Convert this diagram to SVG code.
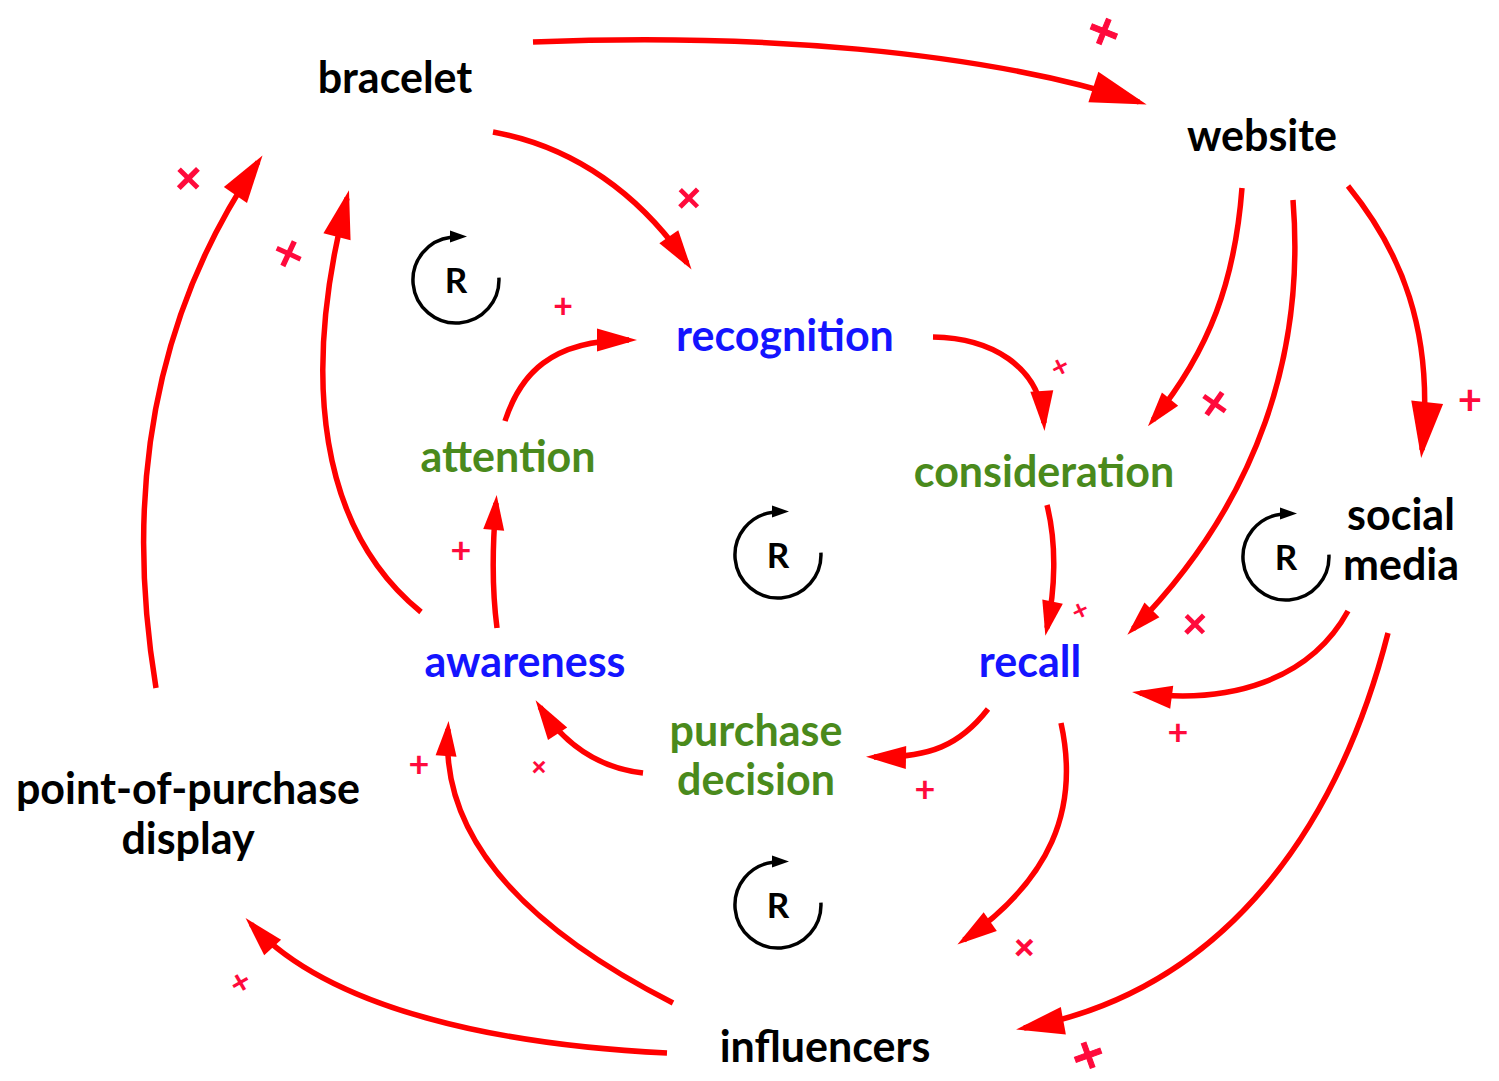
<svg xmlns="http://www.w3.org/2000/svg" xmlns:xlink="http://www.w3.org/1999/xlink" width="1499" height="1081" viewBox="0 0 1499 1081">
<style>
.lbl{font-family:Lato,"Open Sans","Liberation Sans",sans-serif;font-weight:700;font-size:43px;text-anchor:middle}
.blk{fill:#000}
.blu{fill:#1414ff}
.grn{fill:#4a8a1c}
.edge{fill:none;stroke:#ff0000;stroke-width:5.5}
.pol{font-family:Lato,"DejaVu Sans",sans-serif;font-weight:700;fill:#ff0a3c;text-anchor:middle}
.loopc{fill:none;stroke:#000;stroke-width:3.5}
.rl{font-family:Lato,"Open Sans","Liberation Sans",sans-serif;font-weight:700;font-size:35px;text-anchor:middle;fill:#000}
</style>
<defs>
<marker id="ah-s" markerUnits="userSpaceOnUse" markerWidth="36" markerHeight="22" refX="27" refY="10.5" orient="auto" overflow="visible"><path d="M0,0 L35,10.5 L0,21 z" fill="#ff0000"/></marker>
<marker id="ah-m" markerUnits="userSpaceOnUse" markerWidth="41" markerHeight="24" refX="32" refY="11.5" orient="auto" overflow="visible"><path d="M0,0 L40,11.5 L0,23 z" fill="#ff0000"/></marker>
<marker id="ah-l" markerUnits="userSpaceOnUse" markerWidth="49" markerHeight="29" refX="40" refY="14" orient="auto" overflow="visible"><path d="M0,0 L48,14 L0,28 z" fill="#ff0000"/></marker>
<marker id="ah-x" markerUnits="userSpaceOnUse" markerWidth="57" markerHeight="33" refX="48" refY="16" orient="auto" overflow="visible"><path d="M0,0 L56,16 L0,32 z" fill="#ff0000"/></marker>
<g id="loop">
<path class="loopc" d="M42.9,-2.3 A43,43 0 1 1 -5,-42.7"/>
<path d="M-6,-49.5 L11,-43.5 L-6,-37.5 z" fill="#000"/>
<text class="rl" x="0" y="12.5">R</text>
</g>
</defs>
<rect width="1499" height="1081" fill="#fff"/>

<g id="connectors">
<path class="edge" d="M533,42 C750,33 980,50 1139,102" marker-end="url(#ah-x)"/>
<path class="edge" d="M493,132 C575,147 640,195 687,263" marker-end="url(#ah-m)"/>
<path class="edge" d="M1242,188 C1235,280 1210,350 1153,420" marker-end="url(#ah-s)"/>
<path class="edge" d="M1293,200 C1305,350 1260,500 1133,629" marker-end="url(#ah-s)"/>
<path class="edge" d="M1348,186 C1400,250 1435,330 1422,450" marker-end="url(#ah-x)"/>
<path class="edge" d="M933,337 C990,338 1040,365 1044,423" marker-end="url(#ah-m)"/>
<path class="edge" d="M1047,505 C1057,545 1055,590 1047,628" marker-end="url(#ah-s)"/>
<path class="edge" d="M1348,611 C1310,680 1230,705 1140,693" marker-end="url(#ah-m)"/>
<path class="edge" d="M1388,633 C1340,820 1230,990 1024,1028" marker-end="url(#ah-l)"/>
<path class="edge" d="M1061,723 C1080,810 1050,880 964,940" marker-end="url(#ah-m)"/>
<path class="edge" d="M988,709 C960,745 930,758 874,757" marker-end="url(#ah-m)"/>
<path class="edge" d="M643,773 C600,768 565,745 540,707" marker-end="url(#ah-m)"/>
<path class="edge" d="M497,628 C492,590 492,550 496,503" marker-end="url(#ah-s)"/>
<path class="edge" d="M505,421 C520,375 550,340 629,340" marker-end="url(#ah-m)"/>
<path class="edge" d="M421,612 C320,530 300,380 347,198" marker-end="url(#ah-l)"/>
<path class="edge" d="M156,688 C125,500 150,320 258,162" marker-end="url(#ah-l)"/>
<path class="edge" d="M673,1003 C530,930 440,840 448,729" marker-end="url(#ah-s)"/>
<path class="edge" d="M667,1053 C500,1045 330,1010 251,924" marker-end="url(#ah-m)"/>
</g>

<g id="polarities">
<text class="pol" font-size="54" stroke="#ff0a3c" stroke-width="1" transform="translate(1103,31) rotate(-68)" dy="19">+</text>
<text class="pol" font-size="50" transform="translate(689,198) rotate(45)" dy="17">+</text>
<text class="pol" font-size="54" transform="translate(189,178) rotate(45)" dy="19">+</text>
<text class="pol" font-size="54" transform="translate(289,253) rotate(25)" dy="19">+</text>
<text class="pol" font-size="34" transform="translate(563,306)" dy="12">+</text>
<text class="pol" font-size="30" transform="translate(1060,367) rotate(-27)" dy="10">+</text>
<text class="pol" font-size="54" transform="translate(1215,403) rotate(35)" dy="19">+</text>
<text class="pol" font-size="42" transform="translate(1470,400)" dy="15">+</text>
<text class="pol" font-size="28" transform="translate(1080,610) rotate(-25)" dy="10">+</text>
<text class="pol" font-size="50" transform="translate(1195,624) rotate(45)" dy="17">+</text>
<text class="pol" font-size="36" transform="translate(1178,733)" dy="12">+</text>
<text class="pol" font-size="36" transform="translate(925,790)" dy="12">+</text>
<text class="pol" font-size="36" transform="translate(461,551)" dy="12">+</text>
<text class="pol" font-size="30" transform="translate(539,767) rotate(45)" dy="10">+</text>
<text class="pol" font-size="36" transform="translate(419,765)" dy="12">+</text>
<text class="pol" font-size="42" transform="translate(1025,947) rotate(45)" dy="15">+</text>
<text class="pol" font-size="34" transform="translate(240,982) rotate(-30)" dy="12">+</text>
<text class="pol" font-size="54" stroke="#ff0a3c" stroke-width="1" transform="translate(1089,1055) rotate(70)" dy="19">+</text>
</g>

<g id="loop-1" transform="translate(456,280)"><use xlink:href="#loop" href="#loop"/></g>
<g id="loop-2" transform="translate(778,555)"><use xlink:href="#loop" href="#loop"/></g>
<g id="loop-3" transform="translate(1286,557)"><use xlink:href="#loop" href="#loop"/></g>
<g id="loop-4" transform="translate(778,905)"><use xlink:href="#loop" href="#loop"/></g>

<g id="node-bracelet"><text class="lbl blk" x="395" y="93">bracelet</text></g>
<g id="node-website"><text class="lbl blk" x="1262" y="151">website</text></g>
<g id="node-social-media"><text class="lbl blk" x="1401" y="530">social</text><text class="lbl blk" x="1401" y="580">media</text></g>
<g id="node-pop-display"><text class="lbl blk" x="188" y="804">point-of-purchase</text><text class="lbl blk" x="188" y="854">display</text></g>
<g id="node-influencers"><text class="lbl blk" x="825" y="1062">influencers</text></g>
<g id="node-recognition"><text class="lbl blu" x="785" y="351">recognition</text></g>
<g id="node-attention"><text class="lbl grn" x="508" y="472">attention</text></g>
<g id="node-consideration"><text class="lbl grn" x="1044" y="487">consideration</text></g>
<g id="node-awareness"><text class="lbl blu" x="525" y="677">awareness</text></g>
<g id="node-recall"><text class="lbl blu" x="1030" y="677">recall</text></g>
<g id="node-purchase-decision"><text class="lbl grn" x="756" y="746">purchase</text><text class="lbl grn" x="756" y="795">decision</text></g>
</svg>
